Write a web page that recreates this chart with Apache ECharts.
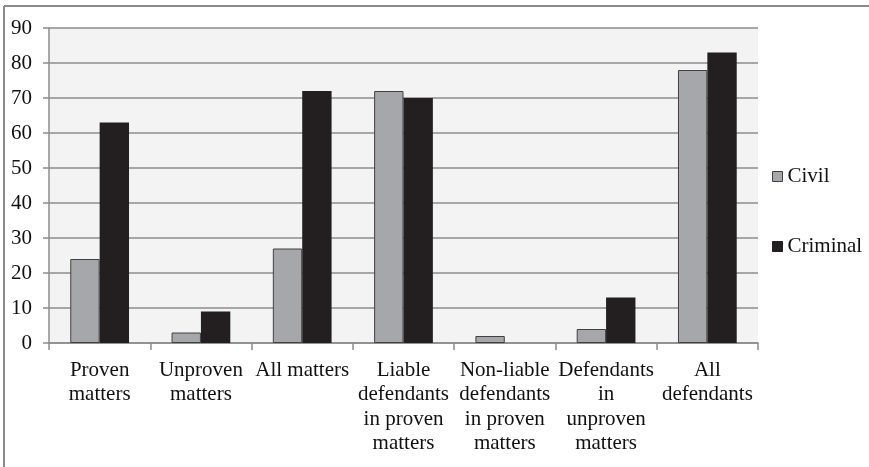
<!DOCTYPE html>
<html>
<head>
<meta charset="utf-8">
<script src="https://cdn.jsdelivr.net/npm/echarts@6/dist/echarts.min.js"></script>
<style>
  html, body { margin: 0; padding: 0; background: #ffffff; }
  #chart { width: 869px; height: 467px; }
</style>
</head>
<body>
<div id="chart"></div>
<script>
// Categories of matters and defendants
const categories = [
  'Proven\nmatters',
  'Unproven\nmatters',
  'All matters',
  'Liable\ndefendants\nin proven\nmatters',
  'Non-liable\ndefendants\nin proven\nmatters',
  'Defendants\nin\nunproven\nmatters',
  'All\ndefendants'
];

// Percentages per category
const civil    = [24, 3, 27, 72, 2, 4, 78];
const criminal = [63, 9, 72, 70, 0, 13, 83];

// Value axis ticks
const yMin = 0;
const yMax = 90;
const yStep = 10;

const serif = "'Liberation Serif', 'Times New Roman', serif";
const axisGray = '#8c8c8c';
const fontSize = 21;

const chart = echarts.init(document.getElementById('chart'), null, { renderer: 'canvas' });

chart.setOption({
  animation: false,
  backgroundColor: '#ffffff',
  textStyle: { fontFamily: serif },
  graphic: [
    { type: 'line', shape: { x1: 4, y1: 6, x2: 869, y2: 6 }, style: { stroke: '#8a8a8e', lineWidth: 2 } },
    { type: 'line', shape: { x1: 4, y1: 6, x2: 4, y2: 467 }, style: { stroke: '#8a8a8e', lineWidth: 2 } }
  ],
  grid: {
    left: 49, right: 111, top: 28, bottom: 124,
    show: true, backgroundColor: '#f2f3f2', borderWidth: 0
  },
  legend: {
    orient: 'vertical',
    left: 772, top: 166, padding: 0,
    itemWidth: 10, itemHeight: 10, itemGap: 49,
    icon: 'rect',
    textStyle: { fontFamily: serif, fontSize: fontSize, color: '#111111' },
    data: [
      { name: 'Civil', itemStyle: { color: '#a6a7aa', borderColor: '#404040', borderWidth: 1 } },
      { name: 'Criminal', itemStyle: { color: '#231f20', borderColor: '#231f20', borderWidth: 1 } }
    ]
  },
  xAxis: {
    type: 'category',
    data: categories,
    axisLine: { show: true, lineStyle: { color: axisGray, width: 1.5 } },
    axisTick: { show: true, length: 7, alignWithLabel: false, lineStyle: { color: axisGray, width: 1.5 } },
    axisLabel: {
      interval: 0, margin: 15,
      fontFamily: serif, fontSize: fontSize, color: '#111111', lineHeight: 24.5
    },
    splitLine: { show: false }
  },
  yAxis: {
    type: 'value',
    min: yMin, max: yMax, interval: yStep,
    axisLine: { show: true, lineStyle: { color: axisGray, width: 1.5 } },
    axisTick: { show: true, length: 6, lineStyle: { color: axisGray, width: 1.5 } },
    axisLabel: { margin: 17, fontFamily: serif, fontSize: fontSize, color: '#111111' },
    splitLine: { show: true, lineStyle: { color: axisGray, width: 1.5 } }
  },
  series: [
    {
      name: 'Civil', type: 'bar', data: civil,
      barWidth: '29%', barGap: '0%',
      itemStyle: { color: '#a6a7aa', borderColor: '#404040', borderWidth: 1 }
    },
    {
      name: 'Criminal', type: 'bar', data: criminal,
      barWidth: '29%', barGap: '0%',
      itemStyle: { color: '#231f20', borderWidth: 0 }
    }
  ]
});
</script>
</body>
</html>
